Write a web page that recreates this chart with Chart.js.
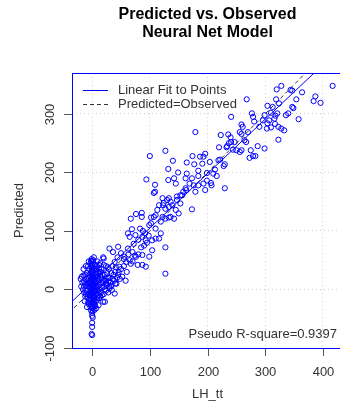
<!DOCTYPE html>
<html>
<head>
<meta charset="utf-8">
<script src="https://cdn.jsdelivr.net/npm/chart.js@4.4.1/dist/chart.umd.min.js"></script>
<style>
    html, body { margin: 0; padding: 0; background: #fff; overflow: hidden; }
    #wrap { width: 340px; height: 413px; overflow: hidden; }
</style>
</head>
<body>
<div id="wrap"><canvas id="myChart" width="348" height="413"></canvas></div>
<script>
// observed LH_tt (x) and predicted (y), 10 per line
const obsX = [
    417, 328, 320, 344, 364, 387, 384, 396, 268, 319,
    324, 354, 340, 349, 358, 304, 313, 321, 310, 299,
    316, 296, 304, 303, 323, 328, 323, 277, 279, 281,
    290, 241, 259, 261, 256, 236, 240, 241, 237, 264,
    267, 223, 179, 247, 220, 233, 250, 256, 259, 275,
    287, 299, 279, 273, 283, 228, 204, 196, 187, 193,
    174, 164, 177, 140, 127, 100, 132, 149, 184, 210,
    94, 109, 109, 132, 142, 145, 162, 173, 184, 199,
    216, 162, 179, 207, 230, 184, 196, 133, 147, 156,
    336, 307, 318, 317, 310, 333, 270, 259, 244, 222,
    347, 347, 191, 234, 230, 219, 164, 199, 213, 169,
    176, 193, 206, 158, 153, 163, 122, 147, 153, 139,
    127, 145, 150, 110, 122, 133, 173, 116, 124, 113,
    107, 130, 136, 123, 133, 76, 67, 86, 86, 102,
    107, 119, 127, 136, 99, 110, 119, 69, 62, 75,
    87, 93, 104, 110, 127, 104, 87, 99, 30, 36,
    45, 20, 50, 56, 70, 76, 39, 59, 67, 47,
    79, 87, 93, 27, 127, 142, 116, 83, 102, 65,
    15, 22, 28, 33, 40, 45, 50, 55, 60, 65,
    38, 25, 30, 42, 48, 52, 58, 35, 20, 12,
    70, 74, 80, 63, 85, 90, 95, 55, 44, 62,
    72, 80, 88, 92, 98,
    0, 0, 1, -1, 0, 1, -1, 0, 2, -2,
    0, 1, -1, 0, 2, -1, 0, 1, -1, 0,
    2, -2, 0, 1, -1, 0, 1, 0, 0, 0,
    0, -1, 4, -15, -18, -12, -14, -10, -16, -8,
    -6, -9, -5, -4, -7, -11, -13, -6, -3, -8,
    -5, -3, -4, -2, -7, -3, 5, 7, 4, 6,
    8, 5, 7, 9, 6, 4, 8, 11, 10, 12,
    13, 11, 14, 10, 15, 17, 18, 16, 19, 22,
    20, 21, 23, 24, 26, 25, 28, 30, 34, 39,
    32, 36, 3, 5, 2, 3, 2, 3, -2, -3,
    2, -1, 19, -2, -12, -9, 7, 14, 9, 12,
    16, -10, -14, 1, 3, -2, 6, 4, -5, 8,
    -1, 1, 2, -2, 0, 1, -1, 3, -3, -4,
    -6, -8, -10, -12, -14, -17, -19, -20, -15, -11,
    5, 6, 7, 9, 10, 11, 12, 13, 15, 17,
    18, 20, 22, 24, 26, 28, 30, 33, 37, 40,
    -5, -3, -7, 2, 4, 6, 9, 0, -2, 1,
    43, 46, 41, 29, 24, 14, 8, -6, 3, 0
];
const predY = [
    348, 348, 342, 341, 337, 330, 322, 319, 325, 325,
    318, 325, 301, 310, 291, 314, 312, 301, 302, 298,
    292, 289, 284, 275, 278, 275, 256, 301, 295, 287,
    278, 295, 282, 278, 269, 265, 260, 252, 250, 255,
    252, 264, 269, 252, 243, 243, 238, 235, 238, 238,
    245, 241, 228, 225, 228, 211, 218, 232, 227, 227,
    228, 217, 214, 220, 237, 228, 206, 200, 203, 198,
    188, 179, 167, 187, 190, 181, 190, 190, 194, 186,
    194, 173, 167, 178, 173, 178, 170, 156, 159, 161,
    298, 289, 297, 283, 277, 272, 269, 266, 239, 222,
    312, 340, 215, 245, 214, 221, 198, 199, 205, 181,
    178, 181, 182, 167, 161, 170, 156, 153, 147, 144,
    138, 136, 130, 127, 124, 123, 137, 144, 148, 136,
    165, 153, 150, 144, 141, 129, 121, 131, 124, 123,
    124, 116, 121, 124, 110, 104, 96, 103, 96, 93,
    90, 84, 84, 87, 72, 67, 59, 56, 70, 64,
    73, 53, 62, 56, 64, 56, 47, 47, 44, 39,
    42, 42, 39, 38, 27, 121, 87, 104, 113, 90,
    30, 25, 20, 28, 30, 25, 35, 40, 30, 50,
    15, 10, 5, 10, 18, 22, 15, 40, 42, 35,
    48, 58, 60, 60, 72, 75, 80, 52, 55, 70,
    78, 85, 100, 96, 92,
    48, 44, 40, 37, 33, 30, 27, 24, 21, 18,
    15, 12, 9, 6, 3, 0, -3, -6, -9, -12,
    -15, -18, -21, -24, -28, -32, -36, -40, -57, -64,
    -78, -76, -35, 24, 22, 10, 5, -2, 0, 15,
    20, 28, 35, -10, -15, -8, -20, -25, -30, 5,
    -5, 8, 14, 30, 40, 45, 42, 35, 28, 22,
    15, 10, 4, -2, -8, -14, -18, -27, -10, 0,
    8, 18, 24, 30, -5, 3, 12, 20, -21, -21,
    -8, 5, 15, -2, 8, 20, -5, 2, -1, -7,
    12, 18, -22, -28, -10, 5, 18, 35, 2, -15,
    50, 52, 55, 49, -12, -30, -32, -12, 48, 42,
    35, 18, 14, 26, -4, -7, 0, 16, 25, 8,
    -5, -1, 8, 12, 20, 35, 42, -18, 22, 3,
    10, -8, 8, 25, -5, 12, 5, 18, 35, 40,
    -2, 14, 26, 20, 5, -5, -15, 30, 12, -10,
    25, 15, 0, 10, 28, 14, 20, 6, 25, 10,
    -20, -25, -22, -30, -25, -20, -14, -45, -36, -48,
    20, 30, 38, 35, 40, 45, 40, 48, 55, 40
];

const xTicks = [0, 100, 200, 300, 400];
const yTicks = [-100, 0, 100, 200, 300];
const fitCoef = [12, 0.93];     // intercept, slope of linear fit
const lineX = [-40, 440];
const titleLines = ["Predicted vs. Observed", "Neural Net Model"];
const legendLabels = ["Linear Fit to Points", "Predicted=Observed"];
const rSquareText = "Pseudo R-square=0.9397";

const FONT = '"Liberation Sans", Arial, sans-serif';

let points = obsX.map((v, i) => ({ x: v, y: predY[i] }));
let fitLine = lineX.map(v => ({ x: v, y: fitCoef[0] + fitCoef[1] * v }));
let idLine = lineX.map(v => ({ x: v, y: v }));

// draws the R-like frame, ticks, labels, titles and legend
const rStylePlugin = {
    id: "rStyle",
    afterDraw(chart) {
        let ctx = chart.ctx;
        let a = chart.chartArea;
        let xs = chart.scales.x;
        let ys = chart.scales.y;
        ctx.save();

        ctx.strokeStyle = "#0000ff";
        ctx.lineWidth = 1;
        ctx.strokeRect(a.left + 0.5, a.top + 0.5, a.right - a.left, a.bottom - a.top);

        ctx.strokeStyle = "#555";
        ctx.fillStyle = "#333";
        ctx.font = "13px " + FONT;
        ctx.textAlign = "center";
        ctx.textBaseline = "middle";

        xTicks.forEach(v => {
            let px = Math.round(xs.getPixelForValue(v)) + 0.5;
            ctx.beginPath();
            ctx.moveTo(px, a.bottom + 1);
            ctx.lineTo(px, a.bottom + 8);
            ctx.stroke();
            ctx.fillText(String(v), px, a.bottom + 24);
        });

        yTicks.forEach(v => {
            let py = Math.round(ys.getPixelForValue(v)) + 0.5;
            ctx.beginPath();
            ctx.moveTo(a.left - 8, py);
            ctx.lineTo(a.left, py);
            ctx.stroke();
            ctx.save();
            ctx.translate(a.left - 22, py);
            ctx.rotate(-Math.PI / 2);
            ctx.fillText(String(v), 0, 0);
            ctx.restore();
        });

        let cx = (a.left + a.right) / 2;
        ctx.fillText("LH_tt", cx, 394);
        ctx.save();
        ctx.translate(19, (a.top + a.bottom) / 2);
        ctx.rotate(-Math.PI / 2);
        ctx.fillText("Predicted", 0, 0);
        ctx.restore();

        ctx.fillStyle = "#000";
        ctx.font = "bold 16px " + FONT;
        ctx.fillText(titleLines[0], cx, 15);
        ctx.fillText(titleLines[1], cx, 33);

        // legend
        ctx.font = "13px " + FONT;
        ctx.textAlign = "left";
        ctx.fillStyle = "#333";
        let ds = chart.data.datasets;
        [1, 2].forEach((di, k) => {
            let ly = 90.5 + k * 14;
            ctx.strokeStyle = ds[di].borderColor;
            ctx.setLineDash(ds[di].borderDash || []);
            ctx.beginPath();
            ctx.moveTo(83, ly);
            ctx.lineTo(108, ly);
            ctx.stroke();
            ctx.fillText(legendLabels[k], 118, ly);
        });
        ctx.setLineDash([]);

        ctx.textAlign = "right";
        ctx.fillText(rSquareText, 337, 334);
        ctx.restore();
    }
};

let myChart = new Chart(document.getElementById("myChart").getContext("2d"), {
    type: "scatter",
    data: {
        datasets: [{
            label: "points",
            data: points,
            pointStyle: "circle",
            pointRadius: 2.6,
            borderWidth: 1,
            borderColor: "#0000ff",
            backgroundColor: "rgba(0,0,0,0)"
        }, {
            label: legendLabels[0],
            data: fitLine,
            showLine: true,
            pointRadius: 0,
            borderWidth: 1,
            borderColor: "#0000ff"
        }, {
            label: legendLabels[1],
            data: idLine,
            showLine: true,
            pointRadius: 0,
            borderWidth: 1,
            borderColor: "#333",
            borderDash: [4, 3]
        }]
    },
    options: {
        responsive: false,
        animation: false,
        events: [],
        layout: { padding: { top: 73, right: 2, left: 0, bottom: 0 } },
        plugins: {
            legend: { display: false },
            tooltip: { enabled: false }
        },
        scales: {
            x: {
                type: "linear",
                min: -35,
                max: 435,
                afterBuildTicks: s => { s.ticks = xTicks.map(v => ({ value: v })); },
                afterFit: s => { s.height = 65; },
                ticks: { display: false },
                grid: { color: "#d3d3d3", drawTicks: false },
                border: { display: false, dash: [1, 3] }
            },
            y: {
                type: "linear",
                min: -100,
                max: 370,
                afterBuildTicks: s => { s.ticks = yTicks.map(v => ({ value: v })); },
                afterFit: s => { s.width = 72; },
                ticks: { display: false },
                grid: { color: "#d3d3d3", drawTicks: false },
                border: { display: false, dash: [1, 3] }
            }
        }
    },
    plugins: [rStylePlugin]
});
</script>
</body>
</html>
